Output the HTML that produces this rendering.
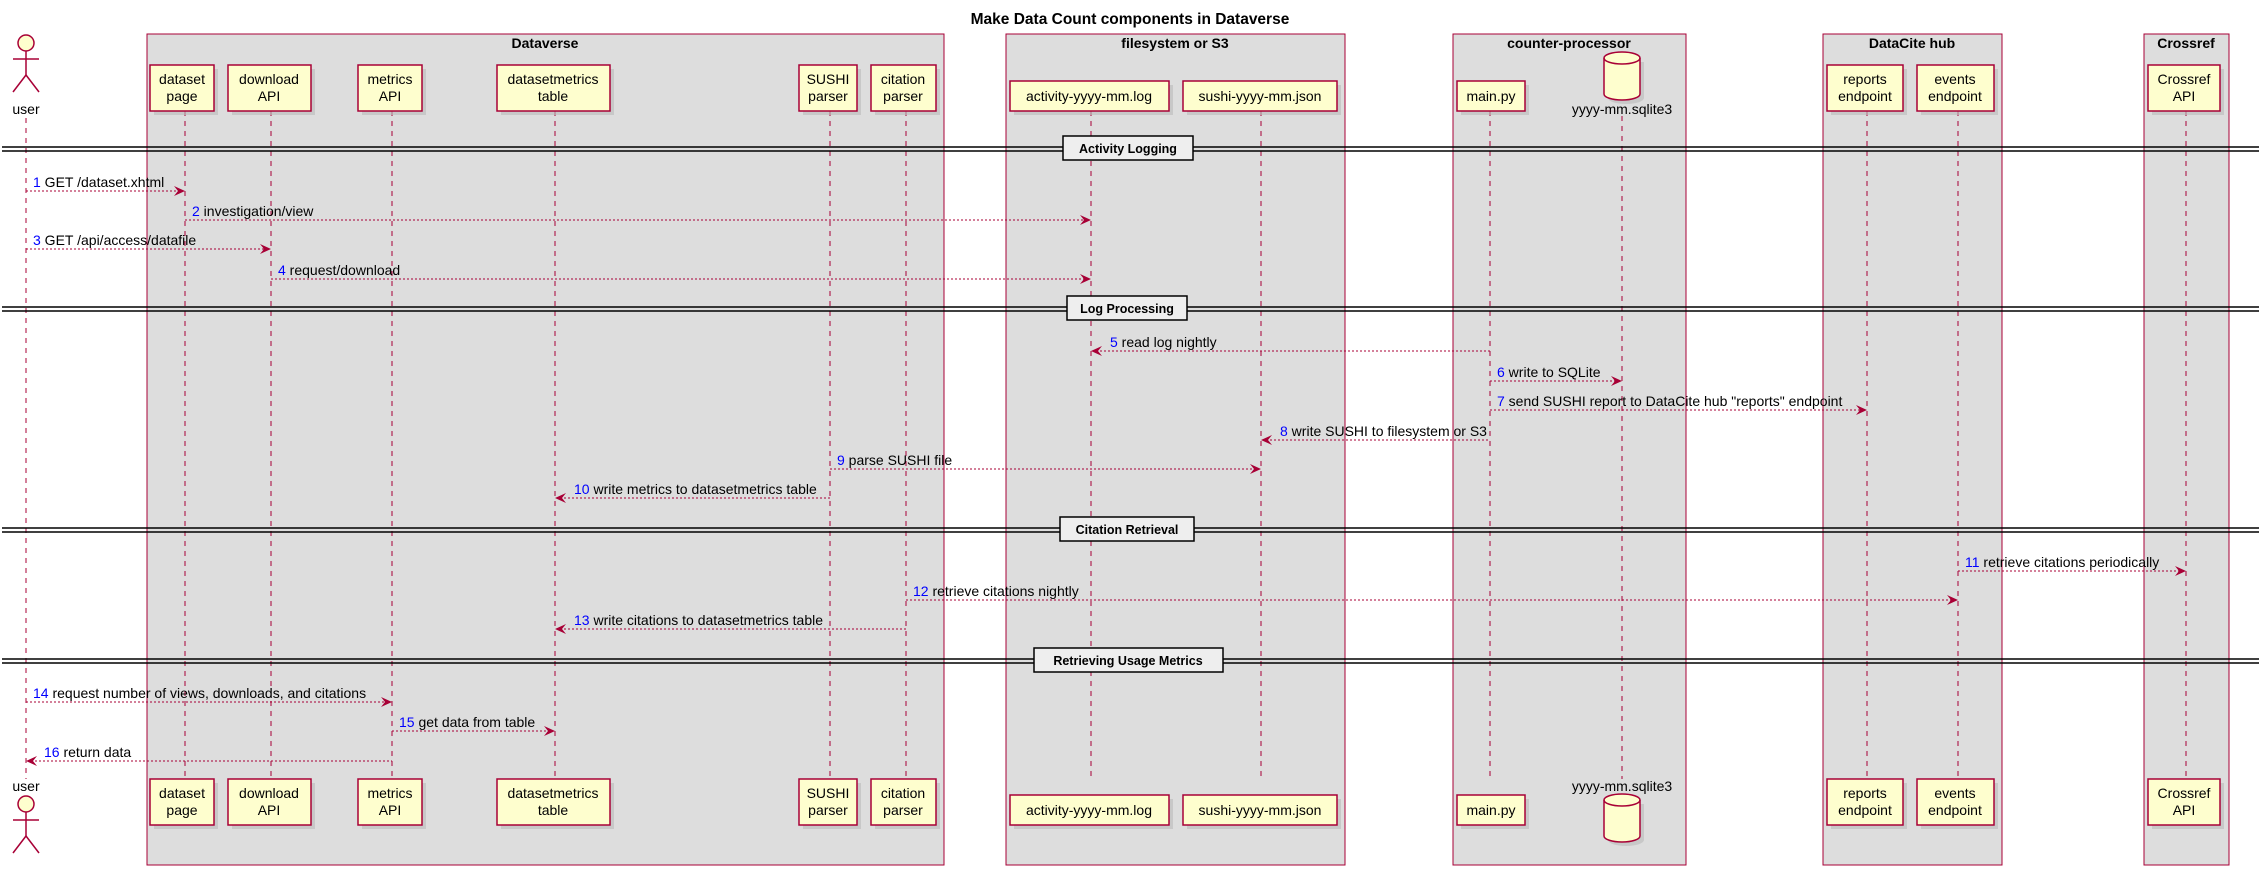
<!DOCTYPE html>
<html><head><meta charset="utf-8"><style>
html,body{margin:0;padding:0;background:#fff}
svg{display:block}
text{font-family:"Liberation Sans",sans-serif}
.p{font-size:14px;fill:#000;text-anchor:middle}
.m{font-size:14px;fill:#000}
.n{fill:#0000ff}
.g{font-size:14px;font-weight:bold;text-anchor:middle}
.ll{stroke:#A80036;stroke-width:1;stroke-dasharray:5,5}
.ar{stroke:#A80036;stroke-width:1;stroke-dasharray:2,2}
.box{fill:#FEFECE;stroke:#A80036;stroke-width:1.5}
.sh{fill:#bbb;opacity:.6}
.cont{fill:#DDDDDD;stroke:#A80036;stroke-width:1}
.ah{fill:#A80036}
</style></head><body>
<svg width="2261" height="875" viewBox="0 0 2261 875" xmlns="http://www.w3.org/2000/svg">
<text x="1130" y="24" style="font-size:15.5px;font-weight:bold;text-anchor:middle">Make Data Count components in Dataverse</text>

<rect class="cont" x="147" y="34" width="797" height="831"/>
<rect class="cont" x="1006" y="34" width="339" height="831"/>
<rect class="cont" x="1453" y="34" width="233" height="831"/>
<rect class="cont" x="1823" y="34" width="179" height="831"/>
<rect class="cont" x="2144" y="34" width="85" height="831"/>
<text class="g" x="545" y="48">Dataverse</text>
<text class="g" x="1175" y="48">filesystem or S3</text>
<text class="g" x="1569" y="48">counter-processor</text>
<text class="g" x="1912" y="48">DataCite hub</text>
<text class="g" x="2186" y="48">Crossref</text>

<g>
<line class="ll" x1="26" y1="118" x2="26" y2="779"/>
<line class="ll" x1="185" y1="111" x2="185" y2="779"/>
<line class="ll" x1="271" y1="111" x2="271" y2="779"/>
<line class="ll" x1="392" y1="111" x2="392" y2="779"/>
<line class="ll" x1="555" y1="111" x2="555" y2="779"/>
<line class="ll" x1="830" y1="111" x2="830" y2="779"/>
<line class="ll" x1="906" y1="111" x2="906" y2="779"/>
<line class="ll" x1="1091" y1="111" x2="1091" y2="779"/>
<line class="ll" x1="1261" y1="111" x2="1261" y2="779"/>
<line class="ll" x1="1490" y1="111" x2="1490" y2="779"/>
<line class="ll" x1="1622" y1="116" x2="1622" y2="779"/>
<line class="ll" x1="1867" y1="111" x2="1867" y2="779"/>
<line class="ll" x1="1958" y1="111" x2="1958" y2="779"/>
<line class="ll" x1="2186" y1="111" x2="2186" y2="779"/>
</g>

<g id="parts">
<rect class="sh" x="154" y="69" width="64" height="46"/><rect class="box" x="150" y="65" width="64" height="46"/>
<text class="p" x="182" y="84">dataset</text><text class="p" x="182" y="101">page</text>
<rect class="sh" x="232" y="69" width="83" height="46"/><rect class="box" x="228" y="65" width="83" height="46"/>
<text class="p" x="269" y="84">download</text><text class="p" x="269" y="101">API</text>
<rect class="sh" x="362" y="69" width="64" height="46"/><rect class="box" x="358" y="65" width="64" height="46"/>
<text class="p" x="390" y="84">metrics</text><text class="p" x="390" y="101">API</text>
<rect class="sh" x="501" y="69" width="113" height="46"/><rect class="box" x="497" y="65" width="113" height="46"/>
<text class="p" x="553" y="84">datasetmetrics</text><text class="p" x="553" y="101">table</text>
<rect class="sh" x="803" y="69" width="58" height="46"/><rect class="box" x="799" y="65" width="58" height="46"/>
<text class="p" x="828" y="84">SUSHI</text><text class="p" x="828" y="101">parser</text>
<rect class="sh" x="875" y="69" width="65" height="46"/><rect class="box" x="871" y="65" width="65" height="46"/>
<text class="p" x="903" y="84">citation</text><text class="p" x="903" y="101">parser</text>
<rect class="sh" x="1831" y="69" width="76" height="46"/><rect class="box" x="1827" y="65" width="76" height="46"/>
<text class="p" x="1865" y="84">reports</text><text class="p" x="1865" y="101">endpoint</text>
<rect class="sh" x="1921" y="69" width="77" height="46"/><rect class="box" x="1917" y="65" width="77" height="46"/>
<text class="p" x="1955" y="84">events</text><text class="p" x="1955" y="101">endpoint</text>
<rect class="sh" x="2152" y="69" width="72" height="46"/><rect class="box" x="2148" y="65" width="72" height="46"/>
<text class="p" x="2184" y="84">Crossref</text><text class="p" x="2184" y="101">API</text>
<rect class="sh" x="1014" y="85" width="159" height="30"/><rect class="box" x="1010" y="81" width="159" height="30"/>
<text class="p" x="1089" y="101">activity-yyyy-mm.log</text>
<rect class="sh" x="1187" y="85" width="154" height="30"/><rect class="box" x="1183" y="81" width="154" height="30"/>
<text class="p" x="1260" y="101">sushi-yyyy-mm.json</text>
<rect class="sh" x="1461" y="85" width="68" height="30"/><rect class="box" x="1457" y="81" width="68" height="30"/>
<text class="p" x="1491" y="101">main.py</text>
</g>
<use href="#parts" transform="translate(0,714)"/>

<g>
<path d="M1608 62 v36 a18 6 0 0 0 36 0 v-36" fill="#bbb" opacity=".6"/>
<path d="M1604 58 v36 a18 6 0 0 0 36 0 v-36 a18 6 0 0 0 -36 0 z" class="box"/>
<path d="M1604 58 a18 6 0 0 0 36 0" fill="none" stroke="#A80036" stroke-width="1.5"/>
<text class="p" x="1622" y="114">yyyy-mm.sqlite3</text>
</g>
<g>
<text class="p" x="1622" y="791">yyyy-mm.sqlite3</text>
<path d="M1608 804 v36 a18 6 0 0 0 36 0 v-36" fill="#bbb" opacity=".6"/>
<path d="M1604 800 v36 a18 6 0 0 0 36 0 v-36 a18 6 0 0 0 -36 0 z" class="box"/>
<path d="M1604 800 a18 6 0 0 0 36 0" fill="none" stroke="#A80036" stroke-width="1.5"/>
</g>

<g id="actor" fill="none" stroke="#A80036" stroke-width="1.5">
<circle cx="26" cy="43" r="8" fill="#FEFECE"/>
<line x1="26" y1="51" x2="26" y2="75"/>
<line x1="13" y1="59" x2="39" y2="59"/>
<line x1="26" y1="75" x2="13" y2="92"/>
<line x1="26" y1="75" x2="39" y2="92"/>
</g>
<text class="p" x="26" y="114">user</text>
<text class="p" x="26" y="791">user</text>
<use href="#actor" transform="translate(0,761)"/>

<g stroke="#000" stroke-width="1.5">
<line x1="2" y1="147" x2="2259" y2="147"/><line x1="2" y1="151" x2="2259" y2="151"/>
<line x1="2" y1="307" x2="2259" y2="307"/><line x1="2" y1="311" x2="2259" y2="311"/>
<line x1="2" y1="528" x2="2259" y2="528"/><line x1="2" y1="532" x2="2259" y2="532"/>
<line x1="2" y1="659" x2="2259" y2="659"/><line x1="2" y1="663" x2="2259" y2="663"/>
</g>
<g stroke="#000" stroke-width="1.5" fill="#EEEEEE">
<rect x="1063" y="136" width="130" height="24"/>
<rect x="1067" y="296" width="120" height="24"/>
<rect x="1060" y="517" width="134" height="24"/>
<rect x="1034" y="648" width="189" height="24"/>
</g>
<g class="g" style="font-size:12.5px">
<text x="1128" y="153" text-anchor="middle">Activity Logging</text>
<text x="1127" y="313" text-anchor="middle">Log Processing</text>
<text x="1127" y="534" text-anchor="middle">Citation Retrieval</text>
<text x="1128" y="665" text-anchor="middle">Retrieving Usage Metrics</text>
</g>

<g>
<line class="ar" x1="26" y1="191" x2="184" y2="191"/><polygon class="ah" points="185,191 174,186 178,191 174,196"/>
<text class="m" x="33" y="187"><tspan class="n">1</tspan> GET /dataset.xhtml</text>

<line class="ar" x1="185" y1="220" x2="1090" y2="220"/><polygon class="ah" points="1091,220 1080,215 1084,220 1080,225"/>
<text class="m" x="192" y="216"><tspan class="n">2</tspan> investigation/view</text>

<line class="ar" x1="26" y1="249" x2="270" y2="249"/><polygon class="ah" points="271,249 260,244 264,249 260,254"/>
<text class="m" x="33" y="245"><tspan class="n">3</tspan> GET /api/access/datafile</text>

<line class="ar" x1="271" y1="279" x2="1090" y2="279"/><polygon class="ah" points="1091,279 1080,274 1084,279 1080,284"/>
<text class="m" x="278" y="275"><tspan class="n">4</tspan> request/download</text>

<line class="ar" x1="1092" y1="351" x2="1490" y2="351"/><polygon class="ah" points="1091,351 1102,346 1098,351 1102,356"/>
<text class="m" x="1110" y="347"><tspan class="n">5</tspan> read log nightly</text>

<line class="ar" x1="1490" y1="381" x2="1621" y2="381"/><polygon class="ah" points="1622,381 1611,376 1615,381 1611,386"/>
<text class="m" x="1497" y="377"><tspan class="n">6</tspan> write to SQLite</text>

<line class="ar" x1="1490" y1="410" x2="1866" y2="410"/><polygon class="ah" points="1867,410 1856,405 1860,410 1856,415"/>
<text class="m" x="1497" y="406"><tspan class="n">7</tspan> send SUSHI report to DataCite hub "reports" endpoint</text>

<line class="ar" x1="1262" y1="440" x2="1490" y2="440"/><polygon class="ah" points="1261,440 1272,435 1268,440 1272,445"/>
<text class="m" x="1280" y="436"><tspan class="n">8</tspan> write SUSHI to filesystem or S3</text>

<line class="ar" x1="830" y1="469" x2="1260" y2="469"/><polygon class="ah" points="1261,469 1250,464 1254,469 1250,474"/>
<text class="m" x="837" y="465"><tspan class="n">9</tspan> parse SUSHI file</text>

<line class="ar" x1="556" y1="498" x2="830" y2="498"/><polygon class="ah" points="555,498 566,493 562,498 566,503"/>
<text class="m" x="574" y="494"><tspan class="n">10</tspan> write metrics to datasetmetrics table</text>

<line class="ar" x1="1958" y1="571" x2="2185" y2="571"/><polygon class="ah" points="2186,571 2175,566 2179,571 2175,576"/>
<text class="m" x="1965" y="567"><tspan class="n">11</tspan> retrieve citations periodically</text>

<line class="ar" x1="906" y1="600" x2="1957" y2="600"/><polygon class="ah" points="1958,600 1947,595 1951,600 1947,605"/>
<text class="m" x="913" y="596"><tspan class="n">12</tspan> retrieve citations nightly</text>

<line class="ar" x1="556" y1="629" x2="906" y2="629"/><polygon class="ah" points="555,629 566,624 562,629 566,634"/>
<text class="m" x="574" y="625"><tspan class="n">13</tspan> write citations to datasetmetrics table</text>

<line class="ar" x1="26" y1="702" x2="391" y2="702"/><polygon class="ah" points="392,702 381,697 385,702 381,707"/>
<text class="m" x="33" y="698"><tspan class="n">14</tspan> request number of views, downloads, and citations</text>

<line class="ar" x1="392" y1="731" x2="554" y2="731"/><polygon class="ah" points="555,731 544,726 548,731 544,736"/>
<text class="m" x="399" y="727"><tspan class="n">15</tspan> get data from table</text>

<line class="ar" x1="27" y1="761" x2="392" y2="761"/><polygon class="ah" points="26,761 37,756 33,761 37,766"/>
<text class="m" x="44" y="757"><tspan class="n">16</tspan> return data</text>
</g>
</svg>
</body></html>
